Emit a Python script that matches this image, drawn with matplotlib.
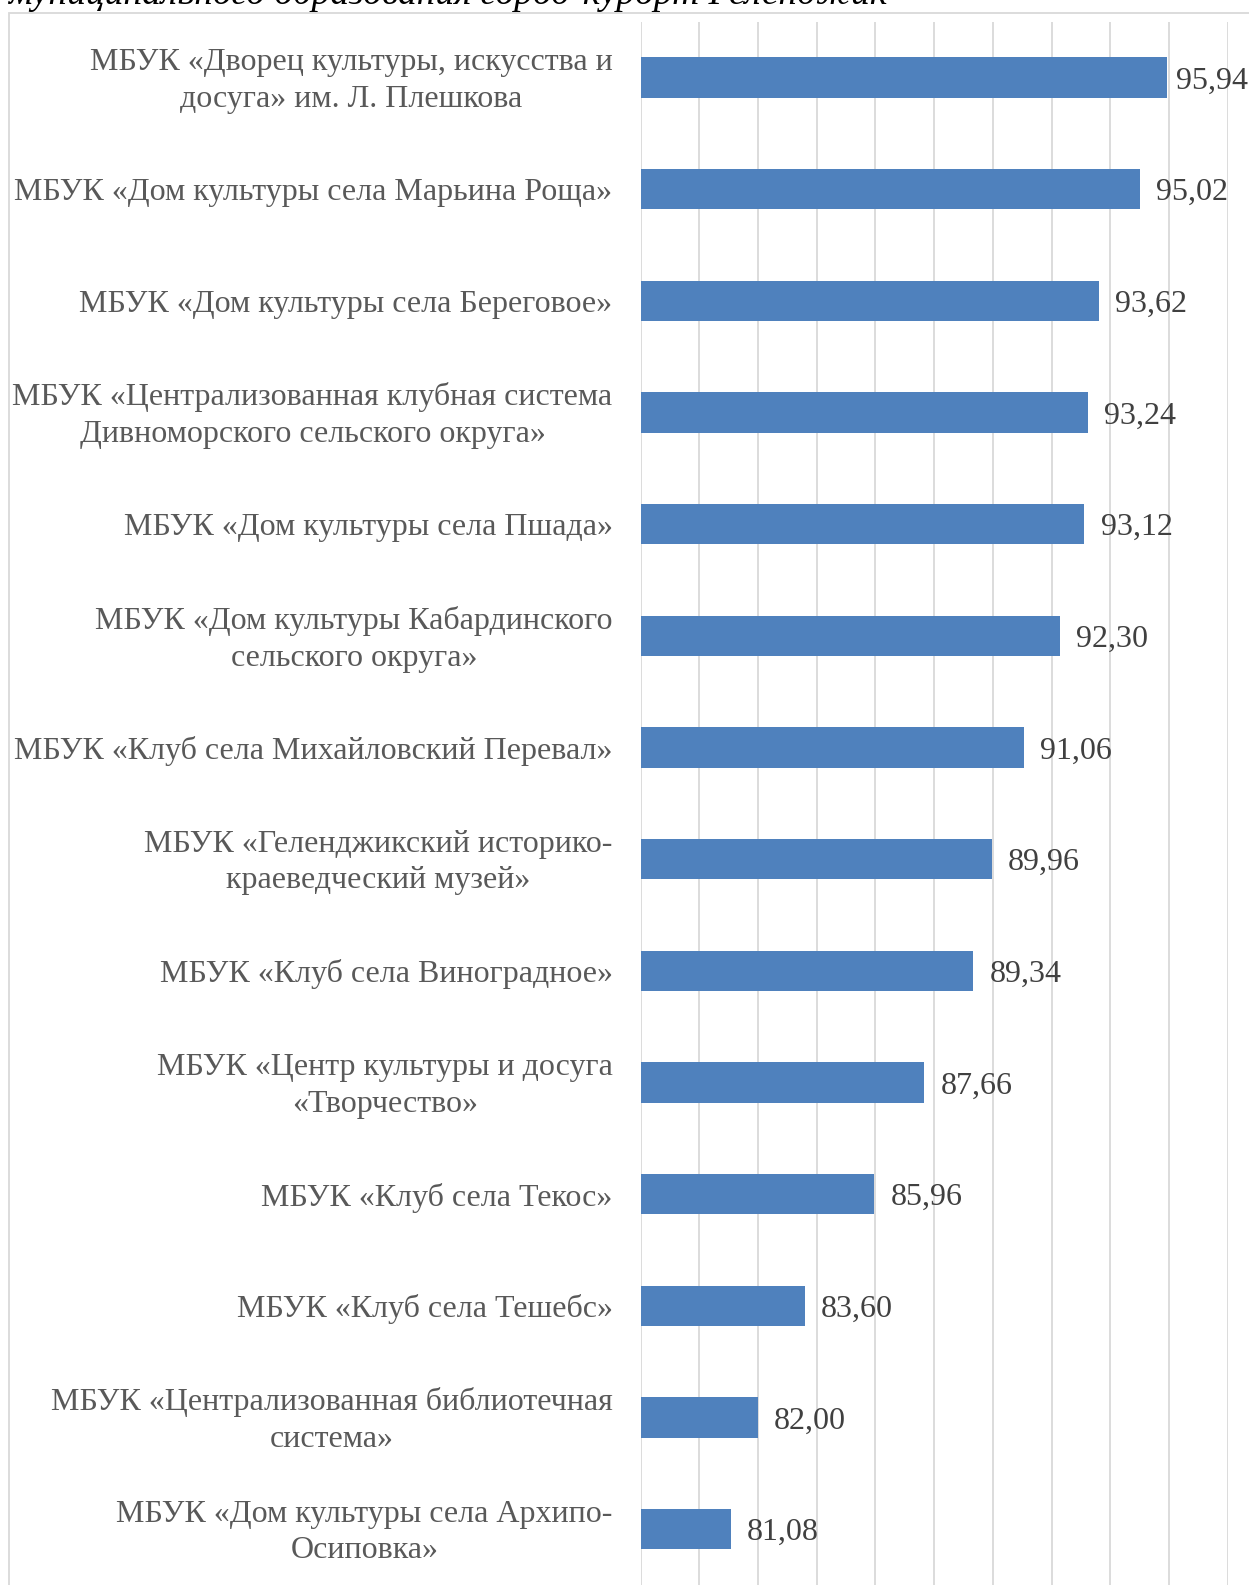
import matplotlib
matplotlib.use('Agg')
import matplotlib.pyplot as plt
from matplotlib.patches import Rectangle

plt.rc('font', family='Liberation Serif')

# data, top to bottom as in the picture
labels = [
    'МБУК «Дворец культуры, искусства и\nдосуга» им. Л. Плешкова',
    'МБУК «Дом культуры села Марьина Роща»',
    'МБУК «Дом культуры села Береговое»',
    'МБУК «Централизованная клубная система\nДивноморского сельского округа»',
    'МБУК «Дом культуры села Пшада»',
    'МБУК «Дом культуры Кабардинского\nсельского округа»',
    'МБУК «Клуб села Михайловский Перевал»',
    'МБУК «Геленджикский историко-\nкраеведческий музей»',
    'МБУК «Клуб села Виноградное»',
    'МБУК «Центр культуры и досуга\n«Творчество»',
    'МБУК «Клуб села Текос»',
    'МБУК «Клуб села Тешебс»',
    'МБУК «Централизованная библиотечная\nсистема»',
    'МБУК «Дом культуры села Архипо-\nОсиповка»',
]
values = [95.94, 95.02, 93.62, 93.24, 93.12, 92.30, 91.06,
          89.96, 89.34, 87.66, 85.96, 83.60, 82.00, 81.08]
caption = 'муниципального образования город-курорт Геленджик'

W, H = 1249, 1585
fig = plt.figure(figsize=(W / 100, H / 100), dpi=100)

# caption of the page, cut off at the top
fig.text(8 / W, 1 - 4 / H, caption, fontsize=27, style='italic',
         color='black', va='baseline', ha='left')

# chart frame (right and bottom edges lie outside the picture)
fig.patches.append(Rectangle((9 / W, -0.05), 1.1, 1.05 - 13 / H,
                             transform=fig.transFigure, fill=False,
                             edgecolor='#d9d9d9', linewidth=1.3))

ax = fig.add_axes([640.6 / W, 0.0, 587 / W, 1 - 21.6 / H])
pos = list(range(len(values)))
ax.barh(pos, values, height=0.36, color='#4F81BD', left=0)
ax.set_xlim(78, 98)
ax.set_ylim(len(values) - 0.5, -0.5)
ax.set_xticks(range(78, 99, 2))
ax.xaxis.grid(True, color='#d9d9d9', linewidth=1.3)
ax.set_axisbelow(True)
ax.tick_params(axis='x', length=0, labelbottom=False)
ax.set_yticks([])
for s in ax.spines.values():
    s.set_visible(False)

# category labels, right-aligned, lines centred
trans = ax.get_yaxis_transform()
for p, lab in zip(pos, labels):
    multi = '\n' in lab
    ax.text(-28 / 587, p + (0.03 if multi else 0.0), lab, transform=trans,
            ha='right', va='center' if multi else 'center_baseline',
            ma='center', linespacing=1.36, fontsize=23, color='#595959')

for p, v in zip(pos, values):
    # label pushed left when it would not fit in the frame
    x = min(v + 0.55, 96.25)
    ax.text(x, p, ('%.2f' % v).replace('.', ','), va='center_baseline',
            ha='left', fontsize=23, color='#404040')

fig.savefig('out.png', dpi=100)
